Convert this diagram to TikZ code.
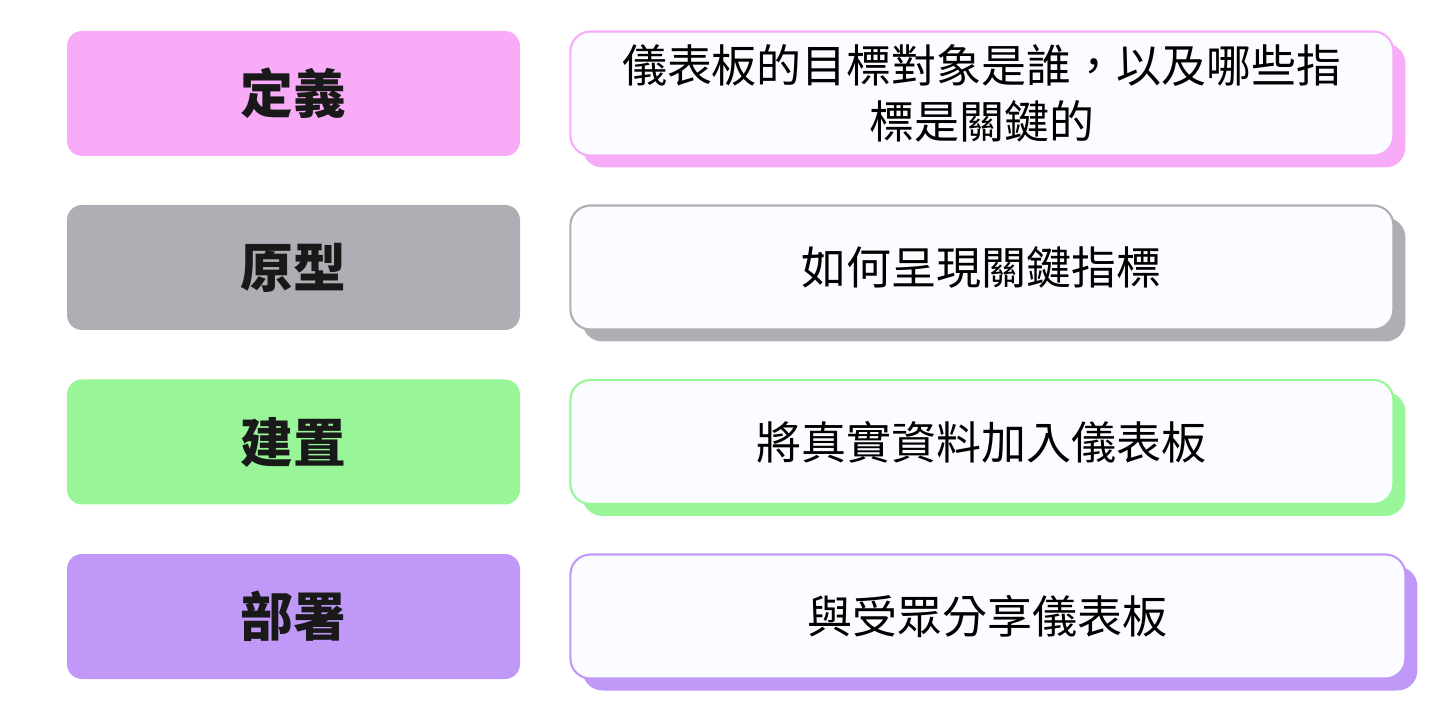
\documentclass[tikz,border=0pt]{standalone}
\usepackage{fontspec}
\setmainfont{Noto Sans CJK TC}
\usetikzlibrary{positioning,shadows}

\definecolor{pinkc}{RGB}{248,172,248}
\definecolor{grayc}{RGB}{174,175,181}
\definecolor{greenc}{RGB}{152,245,152}
\definecolor{purplec}{RGB}{192,152,247}
\definecolor{paperc}{RGB}{250,252,255}

\begin{document}
\begin{tikzpicture}[node distance=0.98cm,
                step box/.style={rounded corners=0.3cm,minimum width=9.06cm,minimum height=2.5cm,
                  font=\fontsize{30}{34}\selectfont\bfseries,text=black!90},
                info box/.style={rounded corners=0.4cm,minimum width=16.46cm,minimum height=2.48cm,
                  fill=paperc,draw=#1,line width=1.2pt,align=center,
                  font=\fontsize{25.6}{32}\selectfont,text=black,
                  drop shadow={shadow xshift=0.24cm,shadow yshift=-0.24cm,fill=#1,opacity=1}}]
                \useasboundingbox (0,0) rectangle (28.72,-14.3);

                \node[step box,fill=pinkc] (define) at (5.87,-1.87) {定義};
                \node[step box,fill=grayc] (proto) at (5.87,-5.35) {原型};
                \node[step box,fill=greenc] (build) at (5.87,-8.84) {建置};
                \node[step box,fill=purplec] (deploy) at (5.87,-12.33) {部署};

                \node[info box=pinkc] (who) [right=of define] {儀表板的目標對象是誰，以及哪些指\\標是關鍵的};
                \node[info box=grayc] (show) [right=of proto] {如何呈現關鍵指標};
                \node[info box=greenc] (data) [right=of build] {將真實資料加入儀表板};
                \node[info box=purplec,minimum width=16.7cm] (share) [right=of deploy] {與受眾分享儀表板};
\end{tikzpicture}
\end{document}
